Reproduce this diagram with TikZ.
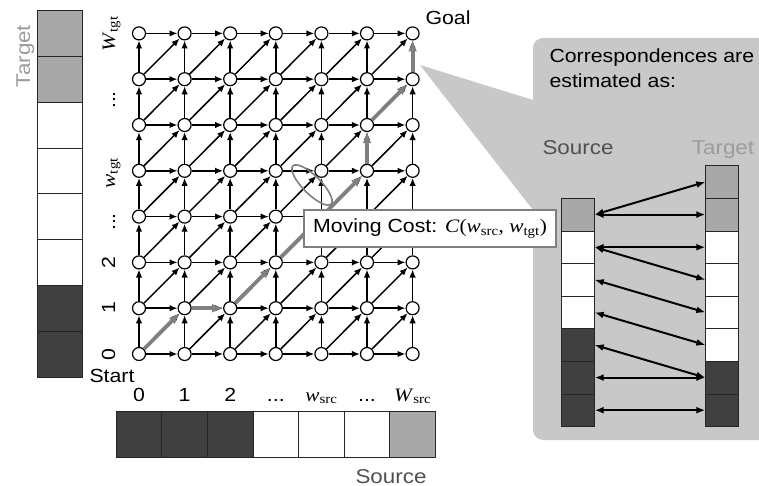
\documentclass[tikz,border=0pt]{standalone}
\usepackage{fontspec}
\setmainfont{Liberation Sans}[FakeStretch=1.12]
\newfontfamily\tms{Liberation Serif}[FakeStretch=1.12]
\usetikzlibrary{arrows.meta}

\definecolor{darkcell}{HTML}{404040}
\definecolor{graycell}{HTML}{A8A8A8}
\definecolor{panel}{HTML}{C8C8C8}
\definecolor{pathgray}{HTML}{808080}
\definecolor{labelgray}{HTML}{9C9C9C}
\definecolor{textgray}{HTML}{505050}

\newcommand{\vsub}[2]{{\tms\textit{#1}\textsubscript{#2}}}
\newcommand{\threedots}{...}

\begin{document}
\begin{tikzpicture}[x=1pt,y=-1pt,font=\fontsize{19}{22}\selectfont,
  vtx/.style={circle,draw,fill=white,line width=1.2pt,minimum size=13pt,inner sep=0pt},
  edge/.style={-{Latex[length=8pt,width=6.5pt]},line width=1.5pt},
  best/.style={-{Latex[length=11pt,width=9pt]},line width=3.8pt,pathgray},
  bigcell/.style={draw=black!85,line width=0.7pt,minimum width=45.6pt,minimum height=45.8pt,inner sep=0pt},
  smallcell/.style={draw=black!85,line width=0.7pt,minimum width=32.6pt,minimum height=32.6pt,inner sep=0pt},
  link/.style={{Latex[length=9pt,width=7pt]}-{Latex[length=9pt,width=7pt]},line width=2pt}]
\useasboundingbox (0,0) rectangle (759,486);

% Callout panel with its pointer
\fill[panel,rounded corners=10pt] (533,38) rectangle (775,440);
\fill[panel] (420,65) -- (533,100) -- (540,100) -- (540,210) -- (533,210) -- cycle;

% Target bar (left) and Source bar (bottom)
\foreach \j/\c in {0/darkcell,1/darkcell,2/white,3/white,4/white,5/white,6/graycell,7/graycell}
  \node[bigcell,fill=\c,minimum width=45pt] (tgt\j) at (60,354-45.8*\j) {};
\foreach \i/\c in {0/darkcell,1/darkcell,2/darkcell,3/white,4/white,5/white,6/graycell}
  \node[bigcell,fill=\c,minimum height=46pt] (src\i) at (139+45.6*\i,434) {};
\node[rotate=90,anchor=base,labelgray,font=\fontsize{20}{22}\selectfont] (tgtname) at (30,56) {Target};
\node[anchor=base,textgray,font=\fontsize{20}{22}\selectfont] (srcname) at (391,483) {Source};

% Grid of alignment states
\foreach \i in {0,...,6}
  \foreach \j in {0,...,7}
    \node[vtx] (n\i\j) at (139+45.6*\i,354-45.8*\j) {};
\foreach \i in {0,...,5}
  \foreach \j in {0,...,7}
    {\pgfmathtruncatemacro\ii{\i+1}
     \draw[edge] (n\i\j) -- (n\ii\j);}
\foreach \i in {0,...,6}
  \foreach \j in {0,...,6}
    {\pgfmathtruncatemacro\jj{\j+1}
     \draw[edge] (n\i\j) -- (n\i\jj);}
\foreach \i in {0,...,5}
  \foreach \j in {0,...,6}
    {\pgfmathtruncatemacro\ii{\i+1}\pgfmathtruncatemacro\jj{\j+1}
     \draw[edge] (n\i\j) -- (n\ii\jj);}

% Best path
\foreach \a/\b in {00/11,11/21,21/32,32/43,43/54,54/55,55/66,66/67}
  \draw[best] (n\a) -- (n\b);

% Axis labels
\foreach \y/\t [count=\k] in {355/0,308/1,263/2,222/\threedots,173/\vsub{w}{tgt},100/\threedots,34/\vsub{W}{tgt}}
  \node[rotate=90,anchor=base] (row\k) at (115,\y) {\t};
\foreach \i/\t in {0/0,1/1,2/2,3/\threedots,4/\vsub{w}{src},5/\threedots,6/\vsub{W}{src}}
  \node[anchor=base] (col\i) at (139+45.6*\i,401) {\t};
\node[anchor=base west] (start) at (86,382) {Start};
\node[anchor=base west] (goal) at (422,25) {Goal};

% Moving cost
\draw[pathgray,line width=1.6pt,rotate around={-45:(312,185)}] (312,185) ellipse [x radius=27pt,y radius=9pt];
\node[draw=pathgray,line width=2pt,fill=white,anchor=north west,minimum width=252pt,minimum height=37pt,inner sep=0pt] (cost) at (303,209)
  {Moving Cost: {\tms\textit{C}(\vsub{w}{src}, \vsub{w}{tgt})}};

% Estimated correspondences
\node[anchor=base west] (note1) at (546,63) {Correspondences are};
\node[anchor=base west] (note2) at (546,88) {estimated as:};
\node[anchor=base,textgray,font=\fontsize{20}{22}\selectfont] (psname) at (578,155) {Source};
\node[anchor=base,labelgray,font=\fontsize{20}{22}\selectfont] (ptname) at (723,155) {Target};
\foreach \k/\c in {0/graycell,1/white,2/white,3/white,4/darkcell,5/darkcell,6/darkcell}
  \node[smallcell,fill=\c] (ps\k) at (578,214.6+32.6*\k) {};
\foreach \k/\c in {0/graycell,1/graycell,2/white,3/white,4/white,5/white,6/darkcell,7/darkcell}
  \node[smallcell,fill=\c] (pt\k) at (722,182+32.6*\k) {};
\foreach \a/\b in {0/0,0/1,1/2,1/3,2/4,3/5,4/6,5/6,6/7}
  \draw[link] (ps\a.east) -- (pt\b.west);
\end{tikzpicture}
\end{document}
